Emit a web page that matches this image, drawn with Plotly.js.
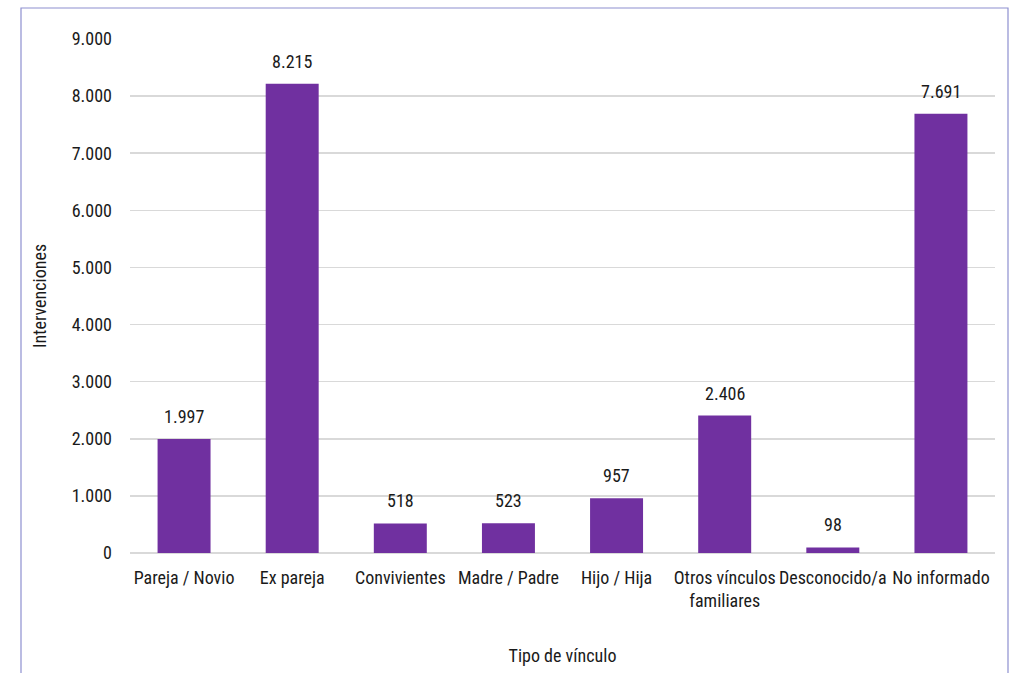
<!DOCTYPE html>
<html>
<head>
<meta charset="utf-8">
<script src="https://cdn.plot.ly/plotly-3.0.1.min.js"></script>
<style>html,body{margin:0;padding:0;background:#fff;}#chart{width:1011px;height:673px;}</style>
</head>
<body>
<div id="chart"></div>
<script>
const categories = ["Pareja / Novio", "Ex pareja", "Convivientes", "Madre / Padre", "Hijo / Hija", "Otros vínculos<br>familiares", "Desconocido/a", "No informado"];
const values = [1997, 8215, 518, 523, 957, 2406, 98, 7691];
const valueLabels = ["1.997", "8.215", "518", "523", "957", "2.406", "98", "7.691"];
const yTickValues = [0, 1000, 2000, 3000, 4000, 5000, 6000, 7000, 8000, 9000];

const FONT = "'Liberation Sans Narrow', 'Arial Narrow', 'Roboto Condensed', sans-serif";
const FS = 18;
const FW = 400;
const W = 1011, H = 673, L = 130, R = 16, T = 39, B = 120;
const pw = W - L - R, ph = H - T - B;

const trace = {
  type: "bar",
  x: categories,
  y: values,
  marker: {color: "#7030A0"},
  hoverinfo: "x+y"
};

const f = () => ({family: FONT, size: FS, color: "#1a1a1a", weight: FW});

const annotations = categories.map((c, i) => ({
  x: c, y: values[i], xref: "x", yref: "y",
  text: valueLabels[i], showarrow: false,
  yanchor: "bottom", yshift: 10,
  font: f()
}));

const layout = {
  width: W, height: H,
  margin: {l: L, r: R, t: T, b: B},
  paper_bgcolor: "#fff", plot_bgcolor: "#fff",
  separators: ",.",
  bargap: 0.51,
  showlegend: false,
  font: f(),
  xaxis: {
    type: "category",
    tickfont: f(),
    ticks: "", showgrid: false, showline: false, zeroline: false,
    automargin: false,
    ticklabelstandoff: 12,
    title: {text: "Tipo de vínculo", font: f(), standoff: 38}
  },
  yaxis: {
    range: [0, 9000],
    tickvals: yTickValues,
    tickformat: ",d",
    tickfont: f(),
    showgrid: true, gridcolor: "#d9d9d9", gridwidth: 1.5,
    zeroline: true, zerolinecolor: "#d9d9d9", zerolinewidth: 1.5,
    showline: false, ticks: "", ticklen: 0,
    automargin: false,
    ticklabelstandoff: 17,
    title: {text: "Intervenciones", font: f(), standoff: 20}
  },
  annotations: annotations,
  shapes: [{
    type: "rect", xref: "paper", yref: "paper",
    x0: (21 - L) / pw, x1: (1008 - L) / pw,
    y0: ((H - B) - 690) / ph, y1: ((H - B) - 8) / ph,
    line: {color: "#8e90d0", width: 1.2}, fillcolor: "rgba(0,0,0,0)", layer: "above"
  }]
};

Plotly.newPlot("chart", [trace], layout, {displayModeBar: false, staticPlot: true});
</script>
</body>
</html>
